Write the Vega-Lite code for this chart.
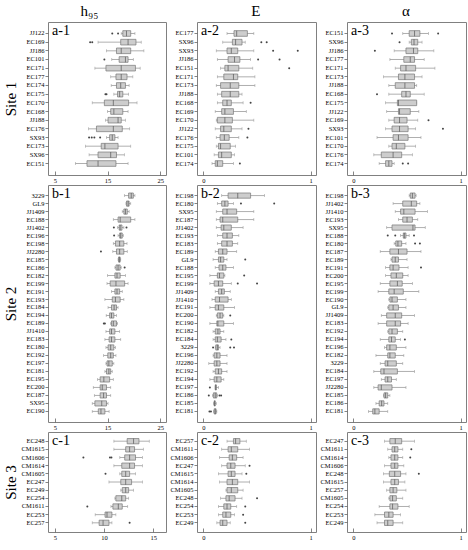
{
"$schema": "https://vega.github.io/schema/vega-lite/v6.json",
"padding": {"left": 2, "top": 3, "right": 4, "bottom": 2},
"background": "white",
"data": {"values": [
{"p":"a1","o":1,"c":"JJ122","lo":17.6,"q1":17.9,"md":18.6,"q3":19.4,"hi":20.2,"out":[15.9,17.0]},
{"p":"a1","o":2,"c":"EC169","lo":13.2,"q1":17.5,"md":18.9,"q3":20.4,"hi":21.4,"out":[11.7,12.1]},
{"p":"a1","o":3,"c":"JJ186","lo":14.8,"q1":16.7,"md":17.6,"q3":19.4,"hi":21.9,"out":[]},
{"p":"a1","o":4,"c":"EC101","lo":15.8,"q1":17.2,"md":18.4,"q3":18.9,"hi":19.9,"out":[14.4]},
{"p":"a1","o":5,"c":"EC171","lo":12.6,"q1":14.7,"md":17.6,"q3":20.3,"hi":21.2,"out":[]},
{"p":"a1","o":6,"c":"EC177","lo":15.6,"q1":16.6,"md":17.6,"q3":18.7,"hi":19.8,"out":[]},
{"p":"a1","o":7,"c":"EC174","lo":15.7,"q1":16.7,"md":17.5,"q3":18.4,"hi":19.1,"out":[]},
{"p":"a1","o":8,"c":"EC175","lo":16.2,"q1":16.9,"md":17.3,"q3":17.9,"hi":19.0,"out":[14.6,14.8]},
{"p":"a1","o":9,"c":"EC170","lo":12.1,"q1":14.4,"md":16.1,"q3":19.0,"hi":20.6,"out":[]},
{"p":"a1","o":10,"c":"EC168","lo":15.0,"q1":15.6,"md":16.2,"q3":17.9,"hi":18.9,"out":[]},
{"p":"a1","o":11,"c":"JJ188","lo":14.6,"q1":15.1,"md":17.0,"q3":17.6,"hi":18.4,"out":[]},
{"p":"a1","o":12,"c":"EC176","lo":11.4,"q1":12.9,"md":16.1,"q3":17.8,"hi":19.2,"out":[]},
{"p":"a1","o":13,"c":"SX93","lo":14.8,"q1":15.4,"md":15.9,"q3":16.4,"hi":17.0,"out":[11.5,12.0,12.5,13.6]},
{"p":"a1","o":14,"c":"EC173","lo":10.8,"q1":13.8,"md":14.5,"q3":17.0,"hi":19.4,"out":[]},
{"p":"a1","o":15,"c":"SX96","lo":11.5,"q1":13.2,"md":15.6,"q3":16.7,"hi":18.2,"out":[]},
{"p":"a1","o":16,"c":"EC151","lo":8.9,"q1":11.1,"md":13.2,"q3":16.6,"hi":18.9,"out":[]},
{"p":"a2","o":1,"c":"EC177","lo":0.22,"q1":0.285,"md":0.31,"q3":0.41,"hi":0.47,"out":[]},
{"p":"a2","o":2,"c":"SX96","lo":0.18,"q1":0.27,"md":0.30,"q3":0.36,"hi":0.39,"out":[0.54,0.59]},
{"p":"a2","o":3,"c":"SX93","lo":0.12,"q1":0.22,"md":0.26,"q3":0.32,"hi":0.47,"out":[0.65,0.88]},
{"p":"a2","o":4,"c":"JJ186","lo":0.13,"q1":0.23,"md":0.29,"q3":0.34,"hi":0.44,"out":[0.51,0.71]},
{"p":"a2","o":5,"c":"EC151","lo":0.16,"q1":0.20,"md":0.23,"q3":0.33,"hi":0.46,"out":[0.80]},
{"p":"a2","o":6,"c":"EC171","lo":0.13,"q1":0.19,"md":0.28,"q3":0.32,"hi":0.48,"out":[]},
{"p":"a2","o":7,"c":"EC173","lo":0.12,"q1":0.16,"md":0.25,"q3":0.33,"hi":0.48,"out":[]},
{"p":"a2","o":8,"c":"JJ188","lo":0.13,"q1":0.17,"md":0.25,"q3":0.33,"hi":0.36,"out":[]},
{"p":"a2","o":9,"c":"EC168","lo":0.13,"q1":0.18,"md":0.22,"q3":0.26,"hi":0.37,"out":[0.44]},
{"p":"a2","o":10,"c":"EC169","lo":0.11,"q1":0.17,"md":0.20,"q3":0.28,"hi":0.40,"out":[]},
{"p":"a2","o":11,"c":"EC170","lo":0.12,"q1":0.13,"md":0.20,"q3":0.27,"hi":0.47,"out":[]},
{"p":"a2","o":12,"c":"JJ122","lo":0.11,"q1":0.16,"md":0.19,"q3":0.26,"hi":0.36,"out":[0.42]},
{"p":"a2","o":13,"c":"EC176","lo":0.12,"q1":0.155,"md":0.195,"q3":0.24,"hi":0.33,"out":[0.41]},
{"p":"a2","o":14,"c":"EC175","lo":0.12,"q1":0.14,"md":0.16,"q3":0.25,"hi":0.30,"out":[]},
{"p":"a2","o":15,"c":"EC101","lo":0.10,"q1":0.14,"md":0.17,"q3":0.26,"hi":0.29,"out":[]},
{"p":"a2","o":16,"c":"EC174","lo":0.08,"q1":0.11,"md":0.13,"q3":0.18,"hi":0.28,"out":[0.34]},
{"p":"a3","o":1,"c":"EC151","lo":0.46,"q1":0.52,"md":0.57,"q3":0.62,"hi":0.70,"out":[0.36,0.79]},
{"p":"a3","o":2,"c":"SX96","lo":0.52,"q1":0.54,"md":0.565,"q3":0.60,"hi":0.64,"out":[0.43]},
{"p":"a3","o":3,"c":"JJ186","lo":0.38,"q1":0.49,"md":0.56,"q3":0.60,"hi":0.75,"out":[0.20]},
{"p":"a3","o":4,"c":"EC177","lo":0.34,"q1":0.47,"md":0.53,"q3":0.57,"hi":0.66,"out":[]},
{"p":"a3","o":5,"c":"EC171","lo":0.39,"q1":0.44,"md":0.49,"q3":0.58,"hi":0.76,"out":[]},
{"p":"a3","o":6,"c":"EC173","lo":0.28,"q1":0.42,"md":0.48,"q3":0.57,"hi":0.64,"out":[]},
{"p":"a3","o":7,"c":"JJ188","lo":0.33,"q1":0.39,"md":0.48,"q3":0.57,"hi":0.59,"out":[]},
{"p":"a3","o":8,"c":"EC168","lo":0.33,"q1":0.45,"md":0.49,"q3":0.53,"hi":0.66,"out":[0.22]},
{"p":"a3","o":9,"c":"EC175","lo":0.30,"q1":0.41,"md":0.42,"q3":0.59,"hi":0.59,"out":[]},
{"p":"a3","o":10,"c":"JJ122","lo":0.31,"q1":0.42,"md":0.43,"q3":0.53,"hi":0.61,"out":[]},
{"p":"a3","o":11,"c":"EC169","lo":0.33,"q1":0.38,"md":0.43,"q3":0.50,"hi":0.60,"out":[0.70]},
{"p":"a3","o":12,"c":"SX93","lo":0.30,"q1":0.36,"md":0.43,"q3":0.51,"hi":0.58,"out":[0.835]},
{"p":"a3","o":13,"c":"EC101","lo":0.22,"q1":0.37,"md":0.42,"q3":0.51,"hi":0.63,"out":[]},
{"p":"a3","o":14,"c":"EC170","lo":0.33,"q1":0.36,"md":0.40,"q3":0.48,"hi":0.58,"out":[]},
{"p":"a3","o":15,"c":"EC176","lo":0.19,"q1":0.26,"md":0.37,"q3":0.45,"hi":0.55,"out":[]},
{"p":"a3","o":16,"c":"EC174","lo":0.24,"q1":0.30,"md":0.33,"q3":0.36,"hi":0.38,"out":[0.46,0.51]},
{"p":"b1","o":1,"c":"3229","lo":18.2,"q1":19.0,"md":19.5,"q3":19.9,"hi":20.2,"out":[]},
{"p":"b1","o":2,"c":"GL9","lo":18.5,"q1":18.6,"md":18.9,"q3":19.1,"hi":19.4,"out":[]},
{"p":"b1","o":3,"c":"JJ1409","lo":17.8,"q1":18.1,"md":18.4,"q3":18.75,"hi":19.1,"out":[]},
{"p":"b1","o":4,"c":"EC188","lo":16.1,"q1":17.0,"md":17.4,"q3":19.4,"hi":20.2,"out":[]},
{"p":"b1","o":5,"c":"JJ1402","lo":16.9,"q1":17.2,"md":17.4,"q3":17.75,"hi":18.1,"out":[16.2,18.6]},
{"p":"b1","o":6,"c":"EC196","lo":17.0,"q1":17.3,"md":17.5,"q3":17.8,"hi":18.0,"out":[16.25]},
{"p":"b1","o":7,"c":"EC198","lo":16.1,"q1":16.5,"md":17.3,"q3":18.1,"hi":18.7,"out":[]},
{"p":"b1","o":8,"c":"JJ2280","lo":16.0,"q1":16.7,"md":17.3,"q3":18.1,"hi":18.75,"out":[13.75]},
{"p":"b1","o":9,"c":"EC185","lo":17.0,"q1":17.1,"md":17.25,"q3":17.4,"hi":17.5,"out":[]},
{"p":"b1","o":10,"c":"EC186","lo":16.4,"q1":16.6,"md":17.0,"q3":17.4,"hi":17.6,"out":[18.25]},
{"p":"b1","o":11,"c":"EC182","lo":15.0,"q1":16.4,"md":16.8,"q3":17.4,"hi":18.4,"out":[]},
{"p":"b1","o":12,"c":"EC199","lo":14.9,"q1":15.5,"md":16.6,"q3":18.25,"hi":18.9,"out":[]},
{"p":"b1","o":13,"c":"EC191","lo":15.75,"q1":16.4,"md":16.8,"q3":17.3,"hi":17.8,"out":[]},
{"p":"b1","o":14,"c":"EC193","lo":14.5,"q1":15.9,"md":16.5,"q3":17.4,"hi":18.1,"out":[]},
{"p":"b1","o":15,"c":"EC184","lo":15.1,"q1":15.75,"md":16.25,"q3":16.7,"hi":17.0,"out":[]},
{"p":"b1","o":16,"c":"EC194","lo":14.75,"q1":15.4,"md":15.75,"q3":16.2,"hi":16.7,"out":[]},
{"p":"b1","o":17,"c":"EC189","lo":15.6,"q1":15.75,"md":16.1,"q3":16.7,"hi":16.9,"out":[14.3,14.5]},
{"p":"b1","o":18,"c":"JJ1410","lo":14.7,"q1":15.4,"md":15.75,"q3":16.4,"hi":17.3,"out":[]},
{"p":"b1","o":19,"c":"EC183","lo":14.5,"q1":15.3,"md":15.75,"q3":16.4,"hi":17.5,"out":[]},
{"p":"b1","o":20,"c":"EC180","lo":14.7,"q1":15.1,"md":15.6,"q3":16.2,"hi":16.5,"out":[]},
{"p":"b1","o":21,"c":"EC192","lo":14.25,"q1":15.05,"md":15.6,"q3":16.1,"hi":16.6,"out":[]},
{"p":"b1","o":22,"c":"EC197","lo":14.7,"q1":14.9,"md":15.25,"q3":15.9,"hi":16.2,"out":[]},
{"p":"b1","o":23,"c":"EC181","lo":14.5,"q1":14.8,"md":15.25,"q3":15.6,"hi":15.9,"out":[]},
{"p":"b1","o":24,"c":"EC195","lo":13.1,"q1":13.6,"md":14.3,"q3":15.4,"hi":16.1,"out":[]},
{"p":"b1","o":25,"c":"EC200","lo":12.3,"q1":13.6,"md":14.0,"q3":14.8,"hi":15.6,"out":[]},
{"p":"b1","o":26,"c":"EC187","lo":12.5,"q1":13.6,"md":14.25,"q3":14.8,"hi":15.6,"out":[]},
{"p":"b1","o":27,"c":"SX95","lo":12.1,"q1":12.6,"md":13.9,"q3":14.8,"hi":15.1,"out":[]},
{"p":"b1","o":28,"c":"EC190","lo":12.1,"q1":13.25,"md":13.75,"q3":14.5,"hi":15.3,"out":[]},
{"p":"b2","o":1,"c":"EC198","lo":0.17,"q1":0.23,"md":0.32,"q3":0.44,"hi":0.57,"out":[]},
{"p":"b2","o":2,"c":"EC180","lo":0.13,"q1":0.17,"md":0.20,"q3":0.23,"hi":0.28,"out":[0.35,0.66]},
{"p":"b2","o":3,"c":"SX95","lo":0.12,"q1":0.18,"md":0.22,"q3":0.31,"hi":0.47,"out":[]},
{"p":"b2","o":4,"c":"EC187","lo":0.12,"q1":0.155,"md":0.18,"q3":0.32,"hi":0.47,"out":[]},
{"p":"b2","o":5,"c":"JJ1402","lo":0.12,"q1":0.165,"md":0.19,"q3":0.26,"hi":0.37,"out":[]},
{"p":"b2","o":6,"c":"EC193","lo":0.13,"q1":0.18,"md":0.22,"q3":0.27,"hi":0.33,"out":[]},
{"p":"b2","o":7,"c":"EC183","lo":0.13,"q1":0.17,"md":0.22,"q3":0.27,"hi":0.32,"out":[]},
{"p":"b2","o":8,"c":"EC189","lo":0.11,"q1":0.14,"md":0.18,"q3":0.22,"hi":0.31,"out":[]},
{"p":"b2","o":9,"c":"GL9","lo":0.09,"q1":0.14,"md":0.16,"q3":0.19,"hi":0.22,"out":[0.39]},
{"p":"b2","o":10,"c":"EC188","lo":0.11,"q1":0.145,"md":0.18,"q3":0.21,"hi":0.28,"out":[]},
{"p":"b2","o":11,"c":"EC195","lo":0.06,"q1":0.13,"md":0.15,"q3":0.19,"hi":0.20,"out":[0.38]},
{"p":"b2","o":12,"c":"EC199","lo":0.06,"q1":0.10,"md":0.14,"q3":0.18,"hi":0.26,"out":[0.32,0.50]},
{"p":"b2","o":13,"c":"JJ1409","lo":0.11,"q1":0.14,"md":0.17,"q3":0.195,"hi":0.25,"out":[]},
{"p":"b2","o":14,"c":"JJ1410","lo":0.08,"q1":0.11,"md":0.15,"q3":0.23,"hi":0.26,"out":[]},
{"p":"b2","o":15,"c":"EC191","lo":0.06,"q1":0.11,"md":0.14,"q3":0.19,"hi":0.29,"out":[]},
{"p":"b2","o":16,"c":"EC200","lo":0.12,"q1":0.13,"md":0.155,"q3":0.18,"hi":0.19,"out":[0.25]},
{"p":"b2","o":17,"c":"EC190","lo":0.06,"q1":0.125,"md":0.135,"q3":0.19,"hi":0.28,"out":[]},
{"p":"b2","o":18,"c":"EC182","lo":0.09,"q1":0.11,"md":0.135,"q3":0.155,"hi":0.19,"out":[]},
{"p":"b2","o":19,"c":"EC184","lo":0.09,"q1":0.11,"md":0.13,"q3":0.165,"hi":0.21,"out":[0.26]},
{"p":"b2","o":20,"c":"3229","lo":0.11,"q1":0.115,"md":0.13,"q3":0.14,"hi":0.155,"out":[0.09,0.25,0.285]},
{"p":"b2","o":21,"c":"EC196","lo":0.09,"q1":0.10,"md":0.125,"q3":0.155,"hi":0.22,"out":[]},
{"p":"b2","o":22,"c":"JJ2280","lo":0.05,"q1":0.10,"md":0.125,"q3":0.155,"hi":0.22,"out":[]},
{"p":"b2","o":23,"c":"EC192","lo":0.09,"q1":0.11,"md":0.14,"q3":0.17,"hi":0.22,"out":[]},
{"p":"b2","o":24,"c":"EC194","lo":0.06,"q1":0.10,"md":0.125,"q3":0.165,"hi":0.19,"out":[]},
{"p":"b2","o":25,"c":"EC197","lo":0.11,"q1":0.11,"md":0.115,"q3":0.12,"hi":0.14,"out":[0.06]},
{"p":"b2","o":26,"c":"EC186","lo":0.085,"q1":0.093,"md":0.11,"q3":0.124,"hi":0.13,"out":[0.05,0.15,0.165]},
{"p":"b2","o":27,"c":"EC185","lo":0.095,"q1":0.10,"md":0.105,"q3":0.11,"hi":0.12,"out":[]},
{"p":"b2","o":28,"c":"EC181","lo":0.095,"q1":0.10,"md":0.11,"q3":0.118,"hi":0.125,"out":[0.056,0.07]},
{"p":"b3","o":1,"c":"EC198","lo":0.52,"q1":0.53,"md":0.55,"q3":0.575,"hi":0.585,"out":[]},
{"p":"b3","o":2,"c":"JJ1402","lo":0.37,"q1":0.46,"md":0.54,"q3":0.59,"hi":0.62,"out":[]},
{"p":"b3","o":3,"c":"JJ1410","lo":0.39,"q1":0.44,"md":0.47,"q3":0.575,"hi":0.69,"out":[]},
{"p":"b3","o":4,"c":"EC193","lo":0.42,"q1":0.46,"md":0.50,"q3":0.55,"hi":0.60,"out":[]},
{"p":"b3","o":5,"c":"SX95","lo":0.31,"q1":0.36,"md":0.555,"q3":0.575,"hi":0.67,"out":[]},
{"p":"b3","o":6,"c":"EC188","lo":0.44,"q1":0.465,"md":0.475,"q3":0.49,"hi":0.52,"out":[0.32,0.39,0.565]},
{"p":"b3","o":7,"c":"EC180","lo":0.38,"q1":0.395,"md":0.415,"q3":0.45,"hi":0.49,"out":[0.575,0.62]},
{"p":"b3","o":8,"c":"EC187","lo":0.25,"q1":0.34,"md":0.42,"q3":0.50,"hi":0.63,"out":[]},
{"p":"b3","o":9,"c":"EC189","lo":0.35,"q1":0.36,"md":0.39,"q3":0.42,"hi":0.50,"out":[]},
{"p":"b3","o":10,"c":"EC191","lo":0.30,"q1":0.34,"md":0.37,"q3":0.425,"hi":0.51,"out":[0.63]},
{"p":"b3","o":11,"c":"EC200","lo":0.30,"q1":0.35,"md":0.40,"q3":0.46,"hi":0.51,"out":[]},
{"p":"b3","o":12,"c":"EC195","lo":0.25,"q1":0.34,"md":0.41,"q3":0.455,"hi":0.55,"out":[]},
{"p":"b3","o":13,"c":"EC199","lo":0.23,"q1":0.33,"md":0.38,"q3":0.465,"hi":0.61,"out":[]},
{"p":"b3","o":14,"c":"EC190","lo":0.33,"q1":0.34,"md":0.36,"q3":0.41,"hi":0.49,"out":[]},
{"p":"b3","o":15,"c":"GL9","lo":0.32,"q1":0.33,"md":0.37,"q3":0.42,"hi":0.49,"out":[]},
{"p":"b3","o":16,"c":"JJ1409","lo":0.26,"q1":0.31,"md":0.39,"q3":0.45,"hi":0.57,"out":[]},
{"p":"b3","o":17,"c":"EC183","lo":0.23,"q1":0.31,"md":0.39,"q3":0.44,"hi":0.51,"out":[]},
{"p":"b3","o":18,"c":"EC192","lo":0.32,"q1":0.33,"md":0.36,"q3":0.41,"hi":0.46,"out":[]},
{"p":"b3","o":19,"c":"EC194","lo":0.25,"q1":0.33,"md":0.355,"q3":0.39,"hi":0.44,"out":[0.48]},
{"p":"b3","o":20,"c":"EC196","lo":0.29,"q1":0.31,"md":0.34,"q3":0.40,"hi":0.49,"out":[]},
{"p":"b3","o":21,"c":"EC182","lo":0.21,"q1":0.32,"md":0.34,"q3":0.39,"hi":0.47,"out":[]},
{"p":"b3","o":22,"c":"3229","lo":0.25,"q1":0.295,"md":0.32,"q3":0.40,"hi":0.46,"out":[]},
{"p":"b3","o":23,"c":"EC184","lo":0.19,"q1":0.255,"md":0.285,"q3":0.41,"hi":0.57,"out":[]},
{"p":"b3","o":24,"c":"EC197","lo":0.26,"q1":0.295,"md":0.32,"q3":0.355,"hi":0.40,"out":[]},
{"p":"b3","o":25,"c":"JJ2280","lo":0.19,"q1":0.23,"md":0.26,"q3":0.36,"hi":0.49,"out":[]},
{"p":"b3","o":26,"c":"EC185","lo":0.28,"q1":0.285,"md":0.30,"q3":0.32,"hi":0.34,"out":[]},
{"p":"b3","o":27,"c":"EC186","lo":0.21,"q1":0.24,"md":0.263,"q3":0.285,"hi":0.32,"out":[]},
{"p":"b3","o":28,"c":"EC181","lo":0.14,"q1":0.18,"md":0.20,"q3":0.24,"hi":0.32,"out":[]},
{"p":"c1","o":1,"c":"EC248","lo":11.0,"q1":12.35,"md":13.0,"q3":13.55,"hi":14.6,"out":[]},
{"p":"c1","o":2,"c":"CM1615","lo":11.0,"q1":12.2,"md":12.6,"q3":13.1,"hi":14.0,"out":[]},
{"p":"c1","o":3,"c":"CM1606","lo":11.6,"q1":12.1,"md":12.6,"q3":13.2,"hi":13.9,"out":[7.9,10.6,10.75]},
{"p":"c1","o":4,"c":"CM1614","lo":11.0,"q1":11.8,"md":12.6,"q3":13.1,"hi":13.9,"out":[]},
{"p":"c1","o":5,"c":"CM1605","lo":11.6,"q1":11.8,"md":12.2,"q3":12.6,"hi":13.2,"out":[10.15]},
{"p":"c1","o":6,"c":"EC247","lo":10.5,"q1":11.7,"md":12.2,"q3":12.8,"hi":13.9,"out":[]},
{"p":"c1","o":7,"c":"EC249","lo":11.7,"q1":11.85,"md":12.2,"q3":12.5,"hi":13.0,"out":[]},
{"p":"c1","o":8,"c":"EC254","lo":11.1,"q1":11.2,"md":11.8,"q3":12.2,"hi":12.5,"out":[]},
{"p":"c1","o":9,"c":"CM1611","lo":10.7,"q1":10.9,"md":11.45,"q3":11.85,"hi":12.4,"out":[8.3]},
{"p":"c1","o":10,"c":"EC253","lo":9.1,"q1":10.1,"md":10.3,"q3":10.8,"hi":11.2,"out":[]},
{"p":"c1","o":11,"c":"EC257","lo":8.8,"q1":9.5,"md":9.9,"q3":10.5,"hi":10.8,"out":[12.6]},
{"p":"c2","o":1,"c":"EC257","lo":0.22,"q1":0.28,"md":0.30,"q3":0.34,"hi":0.40,"out":[]},
{"p":"c2","o":2,"c":"CM1611","lo":0.17,"q1":0.23,"md":0.26,"q3":0.32,"hi":0.43,"out":[]},
{"p":"c2","o":3,"c":"CM1606","lo":0.15,"q1":0.24,"md":0.27,"q3":0.31,"hi":0.37,"out":[]},
{"p":"c2","o":4,"c":"EC247","lo":0.17,"q1":0.22,"md":0.255,"q3":0.295,"hi":0.39,"out":[0.43]},
{"p":"c2","o":5,"c":"CM1615","lo":0.14,"q1":0.23,"md":0.26,"q3":0.295,"hi":0.36,"out":[0.40]},
{"p":"c2","o":6,"c":"CM1614","lo":0.15,"q1":0.22,"md":0.27,"q3":0.32,"hi":0.43,"out":[]},
{"p":"c2","o":7,"c":"CM1605","lo":0.21,"q1":0.22,"md":0.26,"q3":0.32,"hi":0.37,"out":[]},
{"p":"c2","o":8,"c":"EC248","lo":0.16,"q1":0.21,"md":0.24,"q3":0.295,"hi":0.36,"out":[0.50]},
{"p":"c2","o":9,"c":"EC254","lo":0.14,"q1":0.19,"md":0.22,"q3":0.255,"hi":0.31,"out":[0.39]},
{"p":"c2","o":10,"c":"EC253","lo":0.14,"q1":0.18,"md":0.21,"q3":0.255,"hi":0.29,"out":[0.37]},
{"p":"c2","o":11,"c":"EC249","lo":0.125,"q1":0.155,"md":0.18,"q3":0.22,"hi":0.25,"out":[0.39]},
{"p":"c3","o":1,"c":"EC247","lo":0.29,"q1":0.34,"md":0.39,"q3":0.45,"hi":0.57,"out":[]},
{"p":"c3","o":2,"c":"CM1611","lo":0.32,"q1":0.36,"md":0.385,"q3":0.415,"hi":0.46,"out":[0.54]},
{"p":"c3","o":3,"c":"CM1614","lo":0.33,"q1":0.35,"md":0.385,"q3":0.415,"hi":0.46,"out":[0.53]},
{"p":"c3","o":4,"c":"CM1606","lo":0.29,"q1":0.35,"md":0.385,"q3":0.415,"hi":0.47,"out":[]},
{"p":"c3","o":5,"c":"EC248","lo":0.28,"q1":0.335,"md":0.385,"q3":0.44,"hi":0.49,"out":[0.61]},
{"p":"c3","o":6,"c":"CM1615","lo":0.28,"q1":0.35,"md":0.385,"q3":0.42,"hi":0.48,"out":[]},
{"p":"c3","o":7,"c":"EC257","lo":0.31,"q1":0.34,"md":0.37,"q3":0.405,"hi":0.49,"out":[]},
{"p":"c3","o":8,"c":"CM1605","lo":0.33,"q1":0.34,"md":0.365,"q3":0.40,"hi":0.46,"out":[]},
{"p":"c3","o":9,"c":"EC254","lo":0.24,"q1":0.34,"md":0.365,"q3":0.415,"hi":0.52,"out":[]},
{"p":"c3","o":10,"c":"EC253","lo":0.20,"q1":0.29,"md":0.33,"q3":0.37,"hi":0.44,"out":[]},
{"p":"c3","o":11,"c":"EC249","lo":0.22,"q1":0.29,"md":0.32,"q3":0.37,"hi":0.46,"out":[]}
]},
"hconcat": [
{"title": {"text": "h₉₅", "anchor": "middle", "frame": "bounds", "offset": -12, "fontSize": 15, "dx": 5, "baseline": "bottom"},
 "spacing": 0,
 "vconcat": [
  {"width": 118, "height": 153, "transform": [{"filter": "datum.p==='a1'"}], "title": {"text": "a-1"},
   "encoding": {"y": {"field": "c", "type": "nominal", "sort": {"field": "o", "op": "min"}, "scale": {"paddingInner": 0.35, "paddingOuter": 1}, "axis": {"title": "Site 1"}}},
   "layer": [
    {"mark": {"type": "rule", "color": "#9a9a9a", "strokeWidth": 0.8}, "encoding": {"x": {"field": "lo", "type": "quantitative", "title": null, "scale": {"domain": [3.7, 26.1], "nice": false, "zero": false}, "axis": {"values": [5, 15, 25]}}, "x2": {"field": "hi"}}},
    {"mark": {"type": "tick", "orient": "vertical", "size": 3, "thickness": 0.8, "color": "#9a9a9a"}, "encoding": {"x": {"field": "lo", "type": "quantitative", "title": null}}},
    {"mark": {"type": "tick", "orient": "vertical", "size": 3, "thickness": 0.8, "color": "#9a9a9a"}, "encoding": {"x": {"field": "hi", "type": "quantitative", "title": null}}},
    {"mark": {"type": "bar", "fill": "#cdcdcd", "stroke": "#777", "strokeWidth": 0.7}, "encoding": {"x": {"field": "q1", "type": "quantitative", "title": null}, "x2": {"field": "q3"}}},
    {"mark": {"type": "tick", "orient": "vertical", "size": 5.6, "thickness": 1, "color": "#555"}, "encoding": {"x": {"field": "md", "type": "quantitative", "title": null}}},
    {"transform": [{"flatten": ["out"]}], "mark": {"type": "circle", "size": 4, "color": "#444", "opacity": 1}, "encoding": {"x": {"field": "out", "type": "quantitative", "title": null}}}
   ]},
  {"width": 118, "height": 237, "transform": [{"filter": "datum.p==='b1'"}], "title": {"text": "b-1"},
   "encoding": {"y": {"field": "c", "type": "nominal", "sort": {"field": "o", "op": "min"}, "scale": {"paddingInner": 0.35, "paddingOuter": 1}, "axis": {"title": "Site 2"}}},
   "layer": [
    {"mark": {"type": "rule", "color": "#9a9a9a", "strokeWidth": 0.8}, "encoding": {"x": {"field": "lo", "type": "quantitative", "title": null, "scale": {"domain": [3.7, 26.1], "nice": false, "zero": false}, "axis": {"values": [5, 15, 25]}}, "x2": {"field": "hi"}}},
    {"mark": {"type": "tick", "orient": "vertical", "size": 3, "thickness": 0.8, "color": "#9a9a9a"}, "encoding": {"x": {"field": "lo", "type": "quantitative", "title": null}}},
    {"mark": {"type": "tick", "orient": "vertical", "size": 3, "thickness": 0.8, "color": "#9a9a9a"}, "encoding": {"x": {"field": "hi", "type": "quantitative", "title": null}}},
    {"mark": {"type": "bar", "fill": "#cdcdcd", "stroke": "#777", "strokeWidth": 0.7}, "encoding": {"x": {"field": "q1", "type": "quantitative", "title": null}, "x2": {"field": "q3"}}},
    {"mark": {"type": "tick", "orient": "vertical", "size": 5.2, "thickness": 1, "color": "#555"}, "encoding": {"x": {"field": "md", "type": "quantitative", "title": null}}},
    {"transform": [{"flatten": ["out"]}], "mark": {"type": "circle", "size": 4, "color": "#444", "opacity": 1}, "encoding": {"x": {"field": "out", "type": "quantitative", "title": null}}}
   ]},
  {"width": 118, "height": 100, "transform": [{"filter": "datum.p==='c1'"}], "title": {"text": "c-1"},
   "encoding": {"y": {"field": "c", "type": "nominal", "sort": {"field": "o", "op": "min"}, "scale": {"paddingInner": 0.35, "paddingOuter": 0.8}, "axis": {"title": "Site 3"}}},
   "layer": [
    {"mark": {"type": "rule", "color": "#9a9a9a", "strokeWidth": 0.8}, "encoding": {"x": {"field": "lo", "type": "quantitative", "title": null, "scale": {"domain": [4.3, 16.3], "nice": false, "zero": false}, "axis": {"values": [5, 10, 15]}}, "x2": {"field": "hi"}}},
    {"mark": {"type": "tick", "orient": "vertical", "size": 3, "thickness": 0.8, "color": "#9a9a9a"}, "encoding": {"x": {"field": "lo", "type": "quantitative", "title": null}}},
    {"mark": {"type": "tick", "orient": "vertical", "size": 3, "thickness": 0.8, "color": "#9a9a9a"}, "encoding": {"x": {"field": "hi", "type": "quantitative", "title": null}}},
    {"mark": {"type": "bar", "fill": "#cdcdcd", "stroke": "#777", "strokeWidth": 0.7}, "encoding": {"x": {"field": "q1", "type": "quantitative", "title": null}, "x2": {"field": "q3"}}},
    {"mark": {"type": "tick", "orient": "vertical", "size": 5.3, "thickness": 1, "color": "#555"}, "encoding": {"x": {"field": "md", "type": "quantitative", "title": null}}},
    {"transform": [{"flatten": ["out"]}], "mark": {"type": "circle", "size": 4, "color": "#444", "opacity": 1}, "encoding": {"x": {"field": "out", "type": "quantitative", "title": null}}}
   ]}
 ]},
{"title": {"text": "E", "anchor": "middle", "frame": "bounds", "offset": -12, "fontSize": 15, "dx": 13, "baseline": "bottom"},
 "spacing": 0,
 "vconcat": [
  {"width": 119, "height": 153, "transform": [{"filter": "datum.p==='a2'"}], "title": {"text": "a-2"},
   "encoding": {"y": {"field": "c", "type": "nominal", "sort": {"field": "o", "op": "min"}, "scale": {"paddingInner": 0.35, "paddingOuter": 1}, "axis": {"title": null}}},
   "layer": [
    {"mark": {"type": "rule", "color": "#9a9a9a", "strokeWidth": 0.8}, "encoding": {"x": {"field": "lo", "type": "quantitative", "title": null, "scale": {"domain": [-0.06, 1.05], "nice": false, "zero": false}, "axis": {"values": [0, 1], "format": "d"}}, "x2": {"field": "hi"}}},
    {"mark": {"type": "tick", "orient": "vertical", "size": 3, "thickness": 0.8, "color": "#9a9a9a"}, "encoding": {"x": {"field": "lo", "type": "quantitative", "title": null}}},
    {"mark": {"type": "tick", "orient": "vertical", "size": 3, "thickness": 0.8, "color": "#9a9a9a"}, "encoding": {"x": {"field": "hi", "type": "quantitative", "title": null}}},
    {"mark": {"type": "bar", "fill": "#cdcdcd", "stroke": "#777", "strokeWidth": 0.7}, "encoding": {"x": {"field": "q1", "type": "quantitative", "title": null}, "x2": {"field": "q3"}}},
    {"mark": {"type": "tick", "orient": "vertical", "size": 5.6, "thickness": 1, "color": "#555"}, "encoding": {"x": {"field": "md", "type": "quantitative", "title": null}}},
    {"transform": [{"flatten": ["out"]}], "mark": {"type": "circle", "size": 4, "color": "#444", "opacity": 1}, "encoding": {"x": {"field": "out", "type": "quantitative", "title": null}}}
   ]},
  {"width": 119, "height": 237, "transform": [{"filter": "datum.p==='b2'"}], "title": {"text": "b-2"},
   "encoding": {"y": {"field": "c", "type": "nominal", "sort": {"field": "o", "op": "min"}, "scale": {"paddingInner": 0.35, "paddingOuter": 1}, "axis": {"title": null}}},
   "layer": [
    {"mark": {"type": "rule", "color": "#9a9a9a", "strokeWidth": 0.8}, "encoding": {"x": {"field": "lo", "type": "quantitative", "title": null, "scale": {"domain": [-0.06, 1.05], "nice": false, "zero": false}, "axis": {"values": [0, 1], "format": "d"}}, "x2": {"field": "hi"}}},
    {"mark": {"type": "tick", "orient": "vertical", "size": 3, "thickness": 0.8, "color": "#9a9a9a"}, "encoding": {"x": {"field": "lo", "type": "quantitative", "title": null}}},
    {"mark": {"type": "tick", "orient": "vertical", "size": 3, "thickness": 0.8, "color": "#9a9a9a"}, "encoding": {"x": {"field": "hi", "type": "quantitative", "title": null}}},
    {"mark": {"type": "bar", "fill": "#cdcdcd", "stroke": "#777", "strokeWidth": 0.7}, "encoding": {"x": {"field": "q1", "type": "quantitative", "title": null}, "x2": {"field": "q3"}}},
    {"mark": {"type": "tick", "orient": "vertical", "size": 5.2, "thickness": 1, "color": "#555"}, "encoding": {"x": {"field": "md", "type": "quantitative", "title": null}}},
    {"transform": [{"flatten": ["out"]}], "mark": {"type": "circle", "size": 4, "color": "#444", "opacity": 1}, "encoding": {"x": {"field": "out", "type": "quantitative", "title": null}}}
   ]},
  {"width": 119, "height": 100, "transform": [{"filter": "datum.p==='c2'"}], "title": {"text": "c-2"},
   "encoding": {"y": {"field": "c", "type": "nominal", "sort": {"field": "o", "op": "min"}, "scale": {"paddingInner": 0.35, "paddingOuter": 0.8}, "axis": {"title": null}}},
   "layer": [
    {"mark": {"type": "rule", "color": "#9a9a9a", "strokeWidth": 0.8}, "encoding": {"x": {"field": "lo", "type": "quantitative", "title": null, "scale": {"domain": [-0.06, 1.05], "nice": false, "zero": false}, "axis": {"values": [0, 1], "format": "d"}}, "x2": {"field": "hi"}}},
    {"mark": {"type": "tick", "orient": "vertical", "size": 3, "thickness": 0.8, "color": "#9a9a9a"}, "encoding": {"x": {"field": "lo", "type": "quantitative", "title": null}}},
    {"mark": {"type": "tick", "orient": "vertical", "size": 3, "thickness": 0.8, "color": "#9a9a9a"}, "encoding": {"x": {"field": "hi", "type": "quantitative", "title": null}}},
    {"mark": {"type": "bar", "fill": "#cdcdcd", "stroke": "#777", "strokeWidth": 0.7}, "encoding": {"x": {"field": "q1", "type": "quantitative", "title": null}, "x2": {"field": "q3"}}},
    {"mark": {"type": "tick", "orient": "vertical", "size": 5.3, "thickness": 1, "color": "#555"}, "encoding": {"x": {"field": "md", "type": "quantitative", "title": null}}},
    {"transform": [{"flatten": ["out"]}], "mark": {"type": "circle", "size": 4, "color": "#444", "opacity": 1}, "encoding": {"x": {"field": "out", "type": "quantitative", "title": null}}}
   ]}
 ]},
{"title": {"text": "α", "anchor": "middle", "frame": "bounds", "offset": -12, "fontSize": 15, "dx": 13, "baseline": "bottom"},
 "spacing": 0,
 "vconcat": [
  {"width": 119, "height": 153, "transform": [{"filter": "datum.p==='a3'"}], "title": {"text": "a-3"},
   "encoding": {"y": {"field": "c", "type": "nominal", "sort": {"field": "o", "op": "min"}, "scale": {"paddingInner": 0.35, "paddingOuter": 1}, "axis": {"title": null}}},
   "layer": [
    {"mark": {"type": "rule", "color": "#9a9a9a", "strokeWidth": 0.8}, "encoding": {"x": {"field": "lo", "type": "quantitative", "title": null, "scale": {"domain": [-0.06, 1.05], "nice": false, "zero": false}, "axis": {"values": [0, 1], "format": "d"}}, "x2": {"field": "hi"}}},
    {"mark": {"type": "tick", "orient": "vertical", "size": 3, "thickness": 0.8, "color": "#9a9a9a"}, "encoding": {"x": {"field": "lo", "type": "quantitative", "title": null}}},
    {"mark": {"type": "tick", "orient": "vertical", "size": 3, "thickness": 0.8, "color": "#9a9a9a"}, "encoding": {"x": {"field": "hi", "type": "quantitative", "title": null}}},
    {"mark": {"type": "bar", "fill": "#cdcdcd", "stroke": "#777", "strokeWidth": 0.7}, "encoding": {"x": {"field": "q1", "type": "quantitative", "title": null}, "x2": {"field": "q3"}}},
    {"mark": {"type": "tick", "orient": "vertical", "size": 5.6, "thickness": 1, "color": "#555"}, "encoding": {"x": {"field": "md", "type": "quantitative", "title": null}}},
    {"transform": [{"flatten": ["out"]}], "mark": {"type": "circle", "size": 4, "color": "#444", "opacity": 1}, "encoding": {"x": {"field": "out", "type": "quantitative", "title": null}}}
   ]},
  {"width": 119, "height": 237, "transform": [{"filter": "datum.p==='b3'"}], "title": {"text": "b-3"},
   "encoding": {"y": {"field": "c", "type": "nominal", "sort": {"field": "o", "op": "min"}, "scale": {"paddingInner": 0.35, "paddingOuter": 1}, "axis": {"title": null}}},
   "layer": [
    {"mark": {"type": "rule", "color": "#9a9a9a", "strokeWidth": 0.8}, "encoding": {"x": {"field": "lo", "type": "quantitative", "title": null, "scale": {"domain": [-0.06, 1.05], "nice": false, "zero": false}, "axis": {"values": [0, 1], "format": "d"}}, "x2": {"field": "hi"}}},
    {"mark": {"type": "tick", "orient": "vertical", "size": 3, "thickness": 0.8, "color": "#9a9a9a"}, "encoding": {"x": {"field": "lo", "type": "quantitative", "title": null}}},
    {"mark": {"type": "tick", "orient": "vertical", "size": 3, "thickness": 0.8, "color": "#9a9a9a"}, "encoding": {"x": {"field": "hi", "type": "quantitative", "title": null}}},
    {"mark": {"type": "bar", "fill": "#cdcdcd", "stroke": "#777", "strokeWidth": 0.7}, "encoding": {"x": {"field": "q1", "type": "quantitative", "title": null}, "x2": {"field": "q3"}}},
    {"mark": {"type": "tick", "orient": "vertical", "size": 5.2, "thickness": 1, "color": "#555"}, "encoding": {"x": {"field": "md", "type": "quantitative", "title": null}}},
    {"transform": [{"flatten": ["out"]}], "mark": {"type": "circle", "size": 4, "color": "#444", "opacity": 1}, "encoding": {"x": {"field": "out", "type": "quantitative", "title": null}}}
   ]},
  {"width": 119, "height": 100, "transform": [{"filter": "datum.p==='c3'"}], "title": {"text": "c-3"},
   "encoding": {"y": {"field": "c", "type": "nominal", "sort": {"field": "o", "op": "min"}, "scale": {"paddingInner": 0.35, "paddingOuter": 0.8}, "axis": {"title": null}}},
   "layer": [
    {"mark": {"type": "rule", "color": "#9a9a9a", "strokeWidth": 0.8}, "encoding": {"x": {"field": "lo", "type": "quantitative", "title": null, "scale": {"domain": [-0.06, 1.05], "nice": false, "zero": false}, "axis": {"values": [0, 1], "format": "d"}}, "x2": {"field": "hi"}}},
    {"mark": {"type": "tick", "orient": "vertical", "size": 3, "thickness": 0.8, "color": "#9a9a9a"}, "encoding": {"x": {"field": "lo", "type": "quantitative", "title": null}}},
    {"mark": {"type": "tick", "orient": "vertical", "size": 3, "thickness": 0.8, "color": "#9a9a9a"}, "encoding": {"x": {"field": "hi", "type": "quantitative", "title": null}}},
    {"mark": {"type": "bar", "fill": "#cdcdcd", "stroke": "#777", "strokeWidth": 0.7}, "encoding": {"x": {"field": "q1", "type": "quantitative", "title": null}, "x2": {"field": "q3"}}},
    {"mark": {"type": "tick", "orient": "vertical", "size": 5.3, "thickness": 1, "color": "#555"}, "encoding": {"x": {"field": "md", "type": "quantitative", "title": null}}},
    {"transform": [{"flatten": ["out"]}], "mark": {"type": "circle", "size": 4, "color": "#444", "opacity": 1}, "encoding": {"x": {"field": "out", "type": "quantitative", "title": null}}}
   ]}
 ]}
],
"spacing": 2,
"config": {
 "font": "Liberation Serif",
 "view": {"stroke": "#808080", "strokeWidth": 1},
 "axis": {"labelFont": "Liberation Serif", "labelFontSize": 6.5, "labelColor": "#000", "grid": false, "domain": false, "tickColor": "#666", "tickWidth": 0.8, "titleFont": "Liberation Serif", "titleFontWeight": "normal", "titleFontSize": 15, "titleColor": "#000"},
 "axisX": {"tickSize": -4, "labelPadding": 6},
 "axisY": {"tickSize": 3, "labelPadding": 1, "minExtent": 27, "maxExtent": 27, "titlePadding": 3},
 "title": {"font": "Liberation Serif", "fontWeight": "normal", "color": "#000", "anchor": "start", "frame": "group", "offset": -16, "dx": 4, "fontSize": 14, "baseline": "bottom"}
}
}
